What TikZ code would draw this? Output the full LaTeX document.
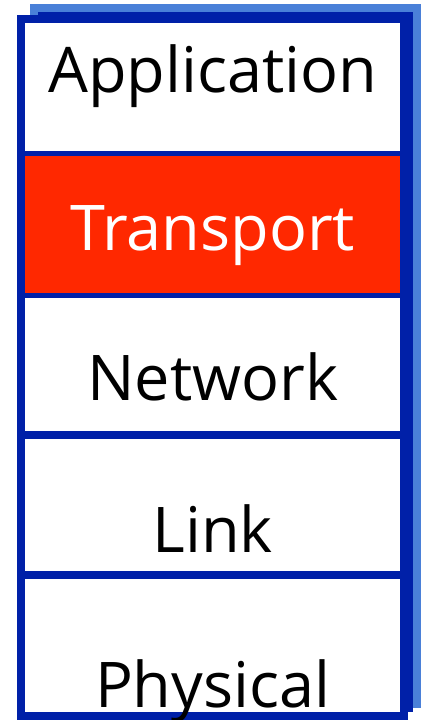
\documentclass[tikz,border=0pt]{standalone}
\usepackage{fontspec}
\setmainfont{Open Sans}
\usepackage{xcolor}
\definecolor{stackBlue}{HTML}{0020A8}
\definecolor{shadowBlue}{HTML}{4A80D8}
\definecolor{layerRed}{HTML}{FF2800}
\usepackage{tikz}
\usetikzlibrary{positioning}

\begin{document}
\begin{tikzpicture}[
		x=1pt, y=-1pt,
		layer/.style={
			fill=white,
			inner sep=0pt,
			minimum width=375pt,
			anchor=north west
		},
		layertext/.style={
			anchor=base,
			inner sep=0pt,
			font=\fontsize{63}{68}\selectfont
		}
		]
		
		\useasboundingbox (0,0) rectangle (423,720);
		
		% shadows and frame
		\fill[shadowBlue] (30,4) rectangle (421,708);
		\fill[stackBlue] (38,12) rectangle (413,712);
		\fill[stackBlue] (17,15) rectangle (408,720);
		
		\node[layer, minimum height=128pt] (app) at (25,23) {};
		\node[layer, minimum height=137pt, fill=layerRed] (trans) at (25,156) {};
		\node[layer, minimum height=133pt] (net) at (25,298) {};
		\node[layer, minimum height=132pt] (link) at (25,439) {};
		\node[layer, minimum height=133pt] (phys) at (25,579) {};
		
		\node[layertext] (appText) at ([yshift=59pt]app.south) {Application};
		\node[layertext, text=white] (transText) at ([yshift=43pt]trans.south) {Transport};
		\node[layertext] (netText) at ([yshift=31pt]net.south) {Network};
		\node[layertext] (linkText) at ([yshift=19pt]link.south) {Link};
		\node[layertext] (physText) at ([yshift=5pt]phys.south) {Physical};
		
	\end{tikzpicture}
\end{document}
